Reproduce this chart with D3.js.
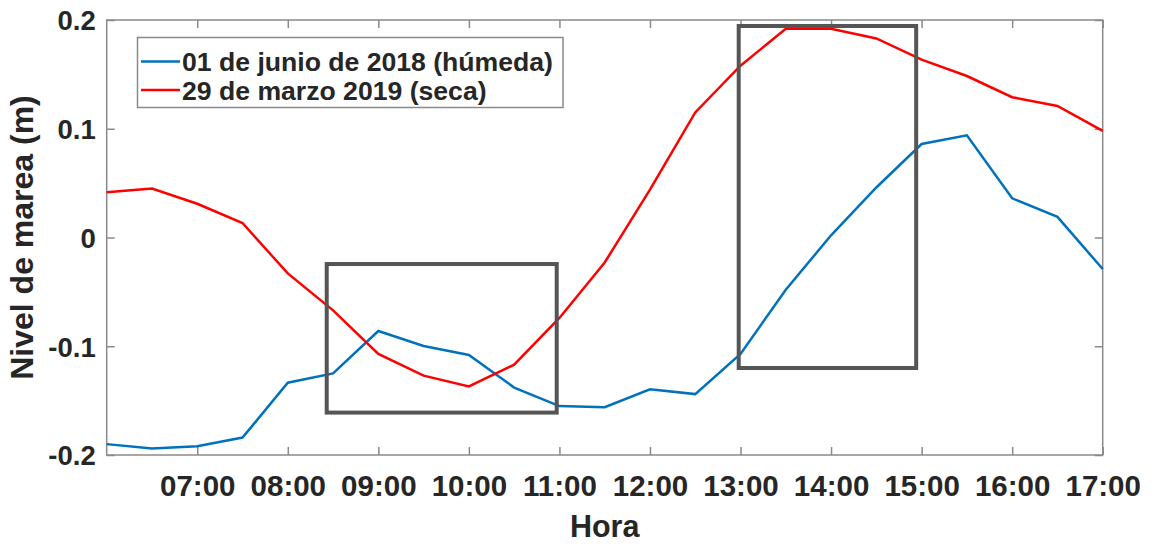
<!DOCTYPE html>
<html><head><meta charset="utf-8">
<script src="https://cdn.jsdelivr.net/npm/d3@7"></script>
<style>body{margin:0;background:#fff}svg{display:block}text{font-family:"Liberation Sans",Arial,sans-serif;font-weight:bold;fill:#262626}</style>
</head><body><svg id="c" width="1156" height="544"></svg>
<script>
const hours = [6,6.5,7,7.5,8,8.5,9,9.5,10,10.5,11,11.5,12,12.5,13,13.5,14,14.5,15,15.5,16,16.5,17];
const humeda = [-0.190,-0.194,-0.192,-0.184,-0.1335,-0.125,-0.086,-0.0998,-0.108,-0.138,-0.155,-0.156,-0.1396,-0.144,-0.107,-0.048,0.002,0.046,0.086,0.094,0.036,0.019,-0.029];
const seca = [0.0416,0.045,0.031,0.0133,-0.033,-0.067,-0.107,-0.127,-0.137,-0.117,-0.074,-0.023,0.044,0.115,0.158,0.192,0.192,0.183,0.1635,0.1485,0.129,0.121,0.098];
const seriesNames = ["01 de junio de 2018 (húmeda)","29 de marzo 2019 (seca)"];
const xTicks = [7,8,9,10,11,12,13,14,15,16,17];
const yTicks = [-0.2,-0.1,0,0.1,0.2];
const yTickLabels = ["-0.2","-0.1","0","0.1","0.2"];
const boxes = [{x0:8.43,x1:10.97,y0:-0.161,y1:-0.0244},{x0:12.98,x1:14.94,y0:-0.12,y1:0.1945}];

const svg = d3.select("#c");
const L=106.7,R=1102.7,T=20,B=455;
const x = d3.scaleLinear().domain([6,17]).range([L,R]);
const y = d3.scaleLinear().domain([-0.2,0.2]).range([B,T]);
const axisColor="#8a8a8a";
const fmtH = h => String(h).padStart(2,"0")+":00";
const fmtY = (v,i) => yTickLabels[i];

// frame
svg.append("rect").attr("x",L).attr("y",T).attr("width",R-L).attr("height",B-T).attr("fill","none").attr("stroke",axisColor).attr("stroke-width",1.5);

// axes
const gx = svg.append("g").attr("transform",`translate(0,${B})`).call(d3.axisBottom(x).tickValues(xTicks).tickFormat(fmtH).tickSizeInner(-8).tickSizeOuter(0).tickPadding(20));
const gxt = svg.append("g").attr("transform",`translate(0,${T})`).call(d3.axisTop(x).tickValues(xTicks).tickFormat("").tickSizeInner(-8).tickSizeOuter(0));
const gy = svg.append("g").attr("transform",`translate(${L},0)`).call(d3.axisLeft(y).tickValues(yTicks).tickFormat(fmtY).tickSizeInner(-8).tickSizeOuter(0).tickPadding(11));
const gyr = svg.append("g").attr("transform",`translate(${R},0)`).call(d3.axisRight(y).tickValues(yTicks).tickFormat("").tickSizeInner(-8).tickSizeOuter(0));
[gx,gxt,gy,gyr].forEach(g=>{g.select(".domain").remove();g.selectAll(".tick line").attr("stroke",axisColor).attr("stroke-width",1.5);});
gx.selectAll(".tick text").style("font-size","29.5px").attr("fill","#262626");
gy.selectAll(".tick text").style("font-size","27.5px").attr("fill","#262626").attr("dy","0.36em");

// labels
svg.append("text").attr("x",(L+R)/2).attr("y",537).attr("text-anchor","middle").style("font-size","30.5px").text("Hora");
svg.append("text").attr("transform",`translate(33,237.5) rotate(-90)`).attr("text-anchor","middle").style("font-size","32px").text("Nivel de marea (m)");

// lines
const line = d3.line().x((d,i)=>x(hours[i])).y(d=>y(d));
svg.append("path").datum(humeda).attr("d",line).attr("fill","none").attr("stroke","#0072BD").attr("stroke-width",2.5);
svg.append("path").datum(seca).attr("d",line).attr("fill","none").attr("stroke","#FF0000").attr("stroke-width",2.5);

// highlight boxes
svg.selectAll(".hb").data(boxes).enter().append("rect").attr("class","hb")
  .attr("x",d=>x(d.x0)).attr("y",d=>y(d.y1)).attr("width",d=>x(d.x1)-x(d.x0)).attr("height",d=>y(d.y0)-y(d.y1))
  .attr("fill","none").attr("stroke","#555").attr("stroke-width",4);

// legend
const lg = svg.append("g");
lg.append("rect").attr("x",137.5).attr("y",37.5).attr("width",425.5).attr("height",70).attr("fill","#fff").attr("stroke","#8a8a8a").attr("stroke-width",1.5);
const colors=["#0072BD","#FF0000"];
seriesNames.forEach((n,i)=>{
  const cy = 61.5 + i*28.5;
  lg.append("line").attr("x1",141).attr("x2",180).attr("y1",cy).attr("y2",cy).attr("stroke",colors[i]).attr("stroke-width",2.5);
  lg.append("text").attr("x",182).attr("y",cy).attr("dy","0.36em").style("font-size","26.6px").text(n);
});
</script></body></html>
